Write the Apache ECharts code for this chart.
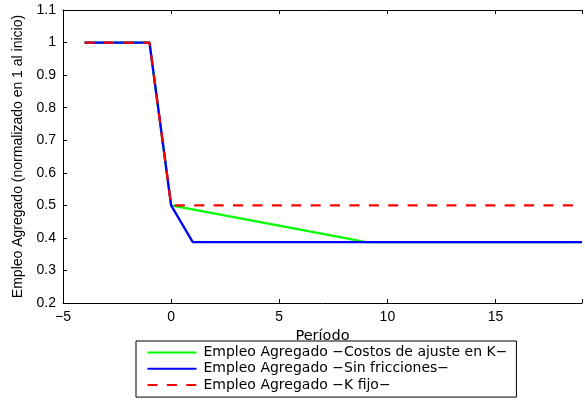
<!DOCTYPE html>
<html><head><meta charset="utf-8">
<script src="https://cdn.jsdelivr.net/npm/echarts@6/dist/echarts.min.js"></script>
<style>html,body{margin:0;padding:0;background:#fff}#c{width:585px;height:401px}</style>
</head><body><div id="c"></div>
<script>
var seriesNames = ['Empleo Agregado \u2212Costos de ajuste en K\u2212', 'Empleo Agregado \u2212Sin fricciones\u2212', 'Empleo Agregado \u2212K fijo\u2212'];
var costosX = [-4, -1, 0, 8, 9, 19];
var costosY = [1, 1, 0.5, 0.40, 0.387, 0.387];
var sinX = [-4, -1, 0, 1, 19];
var sinY = [1, 1, 0.5, 0.387, 0.387];
var fijoX = [-4, -1, 0, 19];
var fijoY = [1, 1, 0.5, 0.5];
var xTicks = [-5, 0, 5, 10, 15];
var yTicks = [0.2, 0.3, 0.4, 0.5, 0.6, 0.7, 0.8, 0.9, 1, 1.1];

function pairs(xs, ys){ return xs.map(function(x,i){ return [x, ys[i]]; }); }
var font = 'Liberation Sans, Arial, sans-serif';
var wide = 'DejaVu Sans, sans-serif';
var chart = echarts.init(document.getElementById('c'), null, {renderer:'canvas'});
var axisLine = {show:true, onZero:false, lineStyle:{color:'#000', width:1}};
var tick = {show:true, inside:true, length:4, lineStyle:{color:'#000'}};
chart.setOption({
  animation:false,
  grid:{left:63, right:-6, top:10, bottom:98, containLabel:false},
  xAxis:[{
    type:'value', min:-5, max:19, interval:5, position:'bottom',
    name:'Per\u00edodo', nameLocation:'middle', nameGap:21,
    nameTextStyle:{fontFamily:wide, fontSize:14.5, color:'#000'},
    axisLine:axisLine, axisTick:tick,
    axisLabel:{fontFamily:font, fontSize:14, color:'#000', margin:7,
      formatter:function(v){ return xTicks.indexOf(v)>=0 ? (v<0 ? '\u2212'+Math.abs(v) : String(v)) : ''; }},
    splitLine:{show:false}
  },{
    type:'value', min:-5, max:19, interval:5, position:'top',
    axisLine:axisLine, axisTick:tick,
    axisLabel:{show:false}, splitLine:{show:false}
  }],
  yAxis:[{
    type:'value', min:0.2, max:1.1, interval:0.1, position:'left',
    name:'Empleo Agregado (normalizado en 1 al inicio)', nameLocation:'middle', nameGap:37,
    nameTextStyle:{fontFamily:font, fontSize:14, color:'#000'},
    axisLine:axisLine, axisTick:tick,
    axisLabel:{fontFamily:font, fontSize:14, color:'#000', margin:7,
      formatter:function(v){ var r=Math.round(v*10)/10; return yTicks.indexOf(r)>=0 ? String(r) : ''; }},
    splitLine:{show:false}
  }],
  legend:{
    orient:'vertical', left:136, top:341,
    backgroundColor:'#fff', borderColor:'#000', borderWidth:1,
    padding:[4.5,9,5,10.5], itemGap:2.3, itemWidth:49, itemHeight:14,
    itemStyle:{opacity:0, borderWidth:0},
    textStyle:{fontFamily:wide, fontSize:14, color:'#000', padding:[0,0,0,2]},
    data:seriesNames
  },
  series:[
    {name:seriesNames[0], type:'line', data:pairs(costosX,costosY), showSymbol:false, symbol:'none',
      lineStyle:{color:'#00ff00', width:2.3}, itemStyle:{color:'#00ff00'}, z:2},
    {name:seriesNames[1], type:'line', data:pairs(sinX,sinY), showSymbol:false, symbol:'none',
      lineStyle:{color:'#0000ff', width:2.3}, itemStyle:{color:'#0000ff'}, z:3},
    {name:seriesNames[2], type:'line', data:pairs(fijoX,fijoY), showSymbol:false, symbol:'none',
      lineStyle:{color:'#ff0000', width:2.3, type:[10,9.4]}, itemStyle:{color:'#ff0000'}, z:4}
  ]
});
</script></body></html>
